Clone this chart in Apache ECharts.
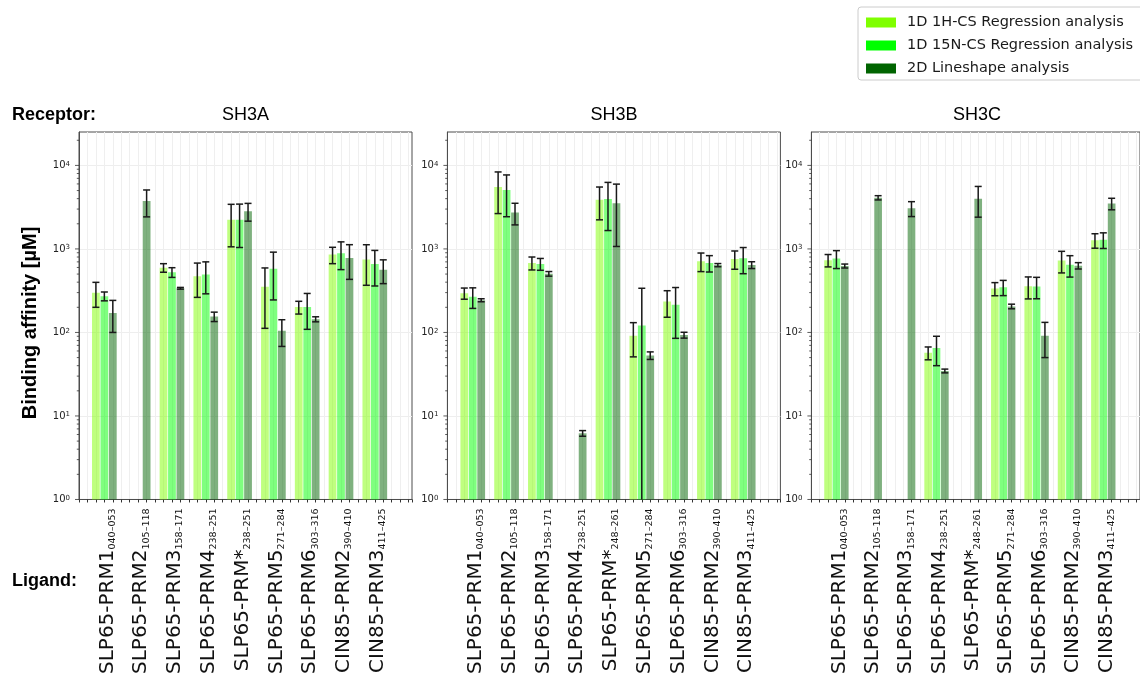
<!DOCTYPE html>
<html>
<head>
<meta charset="utf-8">
<title>Binding affinity of SLP65 / CIN85 ligands to SH3 domains</title>
<script src="https://cdn.jsdelivr.net/npm/echarts@6/dist/echarts.min.js"></script>
<style>
  html, body { margin: 0; padding: 0; background: #ffffff; }
  #chart { width: 1140px; height: 677px; }
</style>
</head>
<body>
<div id="chart"></div>
<script>
// ---- data -------------------------------------------------------------
const receptors = ['SH3A', 'SH3B', 'SH3C'];
const methods = ['1D 1H-CS Regression analysis', '1D 15N-CS Regression analysis', '2D Lineshape analysis'];

const ligandNames = ['SLP65-PRM1', 'SLP65-PRM2', 'SLP65-PRM3', 'SLP65-PRM4', 'SLP65-PRM*',
                     'SLP65-PRM5', 'SLP65-PRM6', 'CIN85-PRM2', 'CIN85-PRM3'];
const ligandRangesA = ['040–053', '105–118', '158–171', '238–251', '238–251',
                       '271–284', '303–316', '390–410', '411–425'];
const ligandRangesBC = ['040–053', '105–118', '158–171', '238–251', '248–261',
                        '271–284', '303–316', '390–410', '411–425'];

// Kd in µM (null = not determined) and ± error
const sh3aH1     = [299, null, 596, 470, 2240, 352, 201, 856, 745];
const sh3aH1Err  = [99, null, 70, 207, 1180, 240, 35, 190, 378];
const sh3aN15    = [272, null, 526, 495, 2240, 580, 201, 890, 660];
const sh3aN15Err = [33, null, 70, 205, 1200, 335, 92, 325, 300];
const sh3aLS     = [171, 3750, 338, 155, 2830, 105, 144, 778, 562];
const sh3aLSErr  = [71, 1330, 8, 20, 680, 37, 10, 346, 178];

const sh3bH1     = [295, 5500, 680, null, 3870, 91, 234, 714, 758];
const sh3bH1Err  = [45, 2850, 120, null, 1640, 40, 82, 179, 187];
const sh3bN15    = [268, 5060, 662, null, 3960, 121, 215, 680, 772];
const sh3bN15Err = [74, 2630, 107, null, 2300, 217, 130, 151, 267];
const sh3bLS     = [243, 2730, 504, 6.2, 3520, 53, 93, 640, 642];
const sh3bLSErr  = [10, 790, 32, 0.48, 2450, 5.5, 7.5, 28, 60];

const sh3cH1     = [733, null, null, 57, null, 335, 357, 726, 1270];
const sh3cH1Err  = [124, null, null, 10, null, 60, 105, 210, 250];
const sh3cN15    = [768, null, null, 65, null, 348, 355, 645, 1285];
const sh3cN15Err = [186, null, null, 25, null, 72, 102, 185, 273];
const sh3cLS     = [625, 4100, 3060, 34.6, 4000, 205, 91, 630, 3490];
const sh3cLSErr  = [34, 240, 620, 1.8, 1600, 13, 41, 55, 550];

const yTickExponents = [0, 1, 2, 3, 4];

// ---- styling ------------------------------------------------------------
const methodColors = ['#7fff00', '#00ff00', '#006400'];
const barFills = ['rgba(127,255,0,0.5)', 'rgba(0,255,0,0.5)', 'rgba(0,100,0,0.5)'];
const SANS = '"DejaVu Sans"';
const TITLE_FONT = '"Liberation Sans"';
const BAR_WIDTH = 0.92;   // in slot units
const CAP_HALF = 3.5;     // px
const Y_MIN = 1, Y_MAX = 25119;
const SLOTS_PER_GROUP = 4;

const panels = [
  { ranges: ligandRangesA,  values: [sh3aH1, sh3aN15, sh3aLS], errors: [sh3aH1Err, sh3aN15Err, sh3aLSErr], left: 79 },
  { ranges: ligandRangesBC, values: [sh3bH1, sh3bN15, sh3bLS], errors: [sh3bH1Err, sh3bN15Err, sh3bLSErr], left: 447.4 },
  { ranges: ligandRangesBC, values: [sh3cH1, sh3cN15, sh3cLS], errors: [sh3cH1Err, sh3cN15Err, sh3cLSErr], left: 811.4 }
];
const GRID_TOP = 132, GRID_H = 374, GRID_W = 333;

function makeBarRenderer(mi) {
  return function (params, api) {
    const slot = api.value(0);
    const v = api.value(1);
    const e = api.value(2);
    const top = api.coord([slot, v]);
    const base = api.coord([slot, Y_MIN]);
    const w = api.size([BAR_WIDTH, 0])[0];
    const hi = api.coord([slot, v + e]);
    const lowVal = v - e;
    const lo = api.coord([slot, lowVal > Y_MIN ? lowVal : Y_MIN]);
    const x = top[0];
    const errStyle = { stroke: '#1a1a1a', lineWidth: 1.5 };
    const children = [
      { type: 'rect', shape: { x: x - w / 2, y: top[1], width: w, height: base[1] - top[1] },
        style: { fill: barFills[mi] } },
      { type: 'line', shape: { x1: x, y1: hi[1], x2: x, y2: lo[1] }, style: errStyle },
      { type: 'line', shape: { x1: x - CAP_HALF, y1: hi[1], x2: x + CAP_HALF, y2: hi[1] }, style: errStyle }
    ];
    if (lowVal > Y_MIN) {
      children.push({ type: 'line', shape: { x1: x - CAP_HALF, y1: lo[1], x2: x + CAP_HALF, y2: lo[1] }, style: errStyle });
    }
    return { type: 'group', children };
  };
}

// log-axis major and minor tick marks drawn outside the left frame
const logTickValues = [];
for (let k = 0; k <= 4; k++) {
  for (let m = 1; m <= 9; m++) {
    const val = m * Math.pow(10, k);
    if (val <= Y_MAX) logTickValues.push([-2, val, m === 1 ? 1 : 0]);
  }
}
function renderLogTick(params, api) {
  const cs = params.coordSys;
  const y = api.coord([-2, api.value(1)])[1];
  const len = api.value(2) ? 4 : 2.2;
  return { type: 'line', shape: { x1: cs.x - len, y1: y, x2: cs.x, y2: y },
           style: { stroke: '#333', lineWidth: 0.8 } };
}

function yLabel(v) {
  const lg = Math.log10(v);
  const e = Math.round(lg);
  if (Math.abs(lg - e) > 1e-6 || yTickExponents.indexOf(e) < 0) return '';
  return '{b|10}{e|' + e + '}';
}

const grids = [], xAxes = [], yAxes = [], series = [];
panels.forEach((p, pi) => {
  grids.push({ left: p.left, top: GRID_TOP, width: GRID_W, height: GRID_H, show: true,
               borderColor: '#4d4d4d', borderWidth: 1, backgroundColor: 'transparent' });
  xAxes.push({
    type: 'value', gridIndex: pi, min: -2, max: 37.4, interval: 1,
    axisLine: { show: true, onZero: false, lineStyle: { color: '#4d4d4d' } },
    axisTick: { show: true, length: 3, lineStyle: { color: '#333' } },
    splitLine: { show: true, showMinLine: false, showMaxLine: false, lineStyle: { color: '#efefef', width: 1 } },
    axisLabel: {
      rotate: 90, margin: 9, color: '#111', padding: [6, 0, 0, 0],
      formatter: function (v) {
        if (v % SLOTS_PER_GROUP !== 1) return '';
        const g = (v - 1) / SLOTS_PER_GROUP;
        if (g < 0 || g >= ligandNames.length) return '';
        return '{m|' + ligandNames[g] + '}{s|' + p.ranges[g] + '}';
      },
      rich: {
        m: { fontFamily: SANS, fontSize: 20, color: '#111', verticalAlign: 'bottom' },
        s: { fontFamily: SANS, fontSize: 9.5, color: '#111', verticalAlign: 'bottom' }
      }
    }
  });
  yAxes.push({
    type: 'log', logBase: 10, gridIndex: pi, min: Y_MIN, max: Y_MAX, splitNumber: 4,
    axisLine: { show: true, onZero: false, lineStyle: { color: '#4d4d4d' } },
    axisTick: { show: false },
    splitLine: { show: true, showMinLine: false, showMaxLine: false, lineStyle: { color: '#eeeeee' } },
    axisLabel: {
      margin: 9, formatter: yLabel,
      rich: {
        b: { fontFamily: SANS, fontSize: 10, color: '#222' },
        e: { fontFamily: SANS, fontSize: 7, color: '#222', verticalAlign: 'top' }
      }
    }
  });
  p.values.forEach((vals, mi) => {
    const data = [];
    vals.forEach((v, g) => {
      if (v !== null) data.push([SLOTS_PER_GROUP * g + mi, v, p.errors[mi][g]]);
    });
    series.push({
      type: 'custom', name: methods[mi], xAxisIndex: pi, yAxisIndex: pi,
      encode: { x: 0, y: 1 }, data: data, renderItem: makeBarRenderer(mi),
      itemStyle: { color: methodColors[mi] }, z: 3, silent: true, animation: false
    });
  });
  series.push({
    type: 'custom', name: 'ticks' + pi, xAxisIndex: pi, yAxisIndex: pi,
    encode: { x: 0, y: 1 }, data: logTickValues, renderItem: renderLogTick,
    clip: false, silent: true, animation: false, z: 4
  });
});

const chart = echarts.init(document.getElementById('chart'), null, { renderer: 'canvas' });
chart.setOption({
  animation: false,
  backgroundColor: '#ffffff',
  grid: grids,
  xAxis: xAxes,
  yAxis: yAxes,
  series: series,
  legend: {
    orient: 'vertical', left: 858, top: 7,
    selectedMode: false,
    itemWidth: 30, itemHeight: 10, itemGap: 8,
    padding: [8, 40, 4, 8],
    borderColor: '#cccccc', borderWidth: 1, borderRadius: 3, backgroundColor: '#ffffff',
    textStyle: { fontFamily: SANS, fontSize: 14.5, color: '#1a1a1a', padding: [0, 0, 0, 6], lineHeight: 14 },
    data: methods.map((m, i) => ({ name: m, icon: 'rect', itemStyle: { color: methodColors[i], opacity: 1 } }))
  },
  graphic: [
    { type: 'text', x: 12, y: 115, style: { text: 'Receptor:', font: 'bold 18px ' + TITLE_FONT, fill: '#000', verticalAlign: 'middle' } },
    { type: 'text', x: 245.5, y: 115, style: { text: receptors[0], font: '18px ' + TITLE_FONT, fill: '#000', align: 'center', verticalAlign: 'middle' } },
    { type: 'text', x: 614, y: 115, style: { text: receptors[1], font: '18px ' + TITLE_FONT, fill: '#000', align: 'center', verticalAlign: 'middle' } },
    { type: 'text', x: 977, y: 115, style: { text: receptors[2], font: '18px ' + TITLE_FONT, fill: '#000', align: 'center', verticalAlign: 'middle' } },
    { type: 'text', x: 12, y: 581, style: { text: 'Ligand:', font: 'bold 18px ' + TITLE_FONT, fill: '#000', verticalAlign: 'middle' } },
    { type: 'text', x: 30, y: 323, rotation: Math.PI / 2,
      style: { text: 'Binding affinity [µM]', font: 'bold 20px ' + TITLE_FONT, fill: '#000', align: 'center', verticalAlign: 'middle' } }
  ]
});
</script>
</body>
</html>
